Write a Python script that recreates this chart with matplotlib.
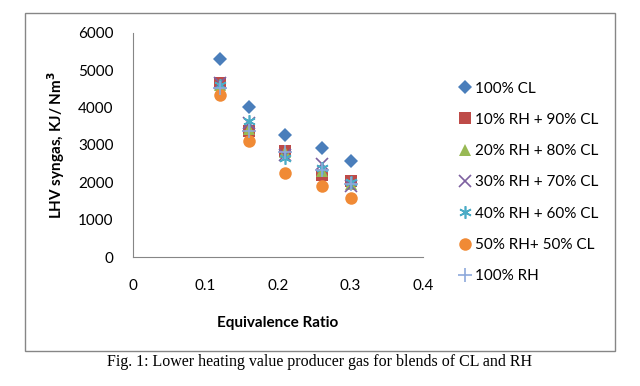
import matplotlib.pyplot as plt
from matplotlib.patches import Rectangle

plt.rcParams['font.family'] = ['Lato', 'DejaVu Sans']

# Equivalence ratio values shared by all blends
er = [0.12, 0.16, 0.21, 0.26, 0.30]

# LHV of syngas (kJ/Nm3)
cl_100 = [5300, 4010, 3270, 2910, 2580]
rh10_cl90 = [4650, 3380, 2840, 2200, 2040]
rh20_cl80 = [4600, 3420, 2800, 2300, 1960]
rh30_cl70 = [4650, 3600, 2740, 2500, 1900]
rh40_cl60 = [4600, 3650, 2660, 2380, 2000]
rh50_cl50 = [4340, 3110, 2260, 1890, 1570]
rh_100 = [4520, 3380, 2800, 2320, 1960]

labels = ['100% CL', '10% RH + 90% CL', '20% RH + 80% CL', '30% RH + 70% CL',
          '40% RH + 60% CL', '50% RH+ 50% CL', '100% RH']
series = [cl_100, rh10_cl90, rh20_cl80, rh30_cl70, rh40_cl60, rh50_cl50, rh_100]
markers = ['D', 's', '^', 'x', (6, 2, 0), 'o', '+']
colors = ['#4A7EBB', '#BE4B48', '#98B954', '#7D60A0', '#4BACC6', '#F08A35', '#8EA9DB']
sizes = [7, 8, 8, 8, 9, 9, 10]

fig = plt.figure(figsize=(6.4, 3.86), dpi=100)
ax = fig.add_axes([0.208, 0.334, 0.453, 0.581])

for y, lab, m, c, s in zip(series, labels, markers, colors, sizes):
    if m in ('x', '+') or isinstance(m, tuple):
        kw = dict(markeredgewidth=1.2)
    else:
        kw = dict(markeredgewidth=0)
    ax.plot(er, y, linestyle='none', marker=m, color=c, markersize=s, label=lab, **kw)

ax.set_xlim(0, 0.4)
ax.set_ylim(0, 6000)
ax.set_xticks([0, 0.1, 0.2, 0.3, 0.4])
ax.set_xticklabels(['0', '0.1', '0.2', '0.3', '0.4'])
ax.set_yticks(range(0, 6001, 1000))
for side in ('top', 'right'):
    ax.spines[side].set_visible(False)
for side in ('left', 'bottom'):
    ax.spines[side].set_color('#868686')
ax.tick_params(length=0, labelsize=11, pad=14)
ax.tick_params(axis='x', pad=16)

ax.set_xlabel('Equivalence Ratio', fontsize=11, fontweight='bold', labelpad=16)
ax.set_ylabel('LHV syngas, KJ/ Nm$^\\mathbf{3}$', fontsize=11, fontweight='bold', labelpad=8)

ax.legend(loc='upper left', bbox_to_anchor=(1.105, 0.81), frameon=False, fontsize=11,
          labelspacing=1.13, handlelength=0.7, handletextpad=0.3, borderaxespad=0)

# outer chart frame
fig.patches.append(Rectangle((25 / 640, 35 / 386), 590 / 640, 338 / 386,
                             transform=fig.transFigure, fill=False,
                             edgecolor='#868686', linewidth=1))

fig.text(0.5, 1 - 362 / 386, 'Fig. 1: Lower heating value producer gas for blends of CL and RH',
         ha='center', va='center', fontsize=11.5, family='Liberation Serif')

fig.savefig('out.png', dpi=100)
